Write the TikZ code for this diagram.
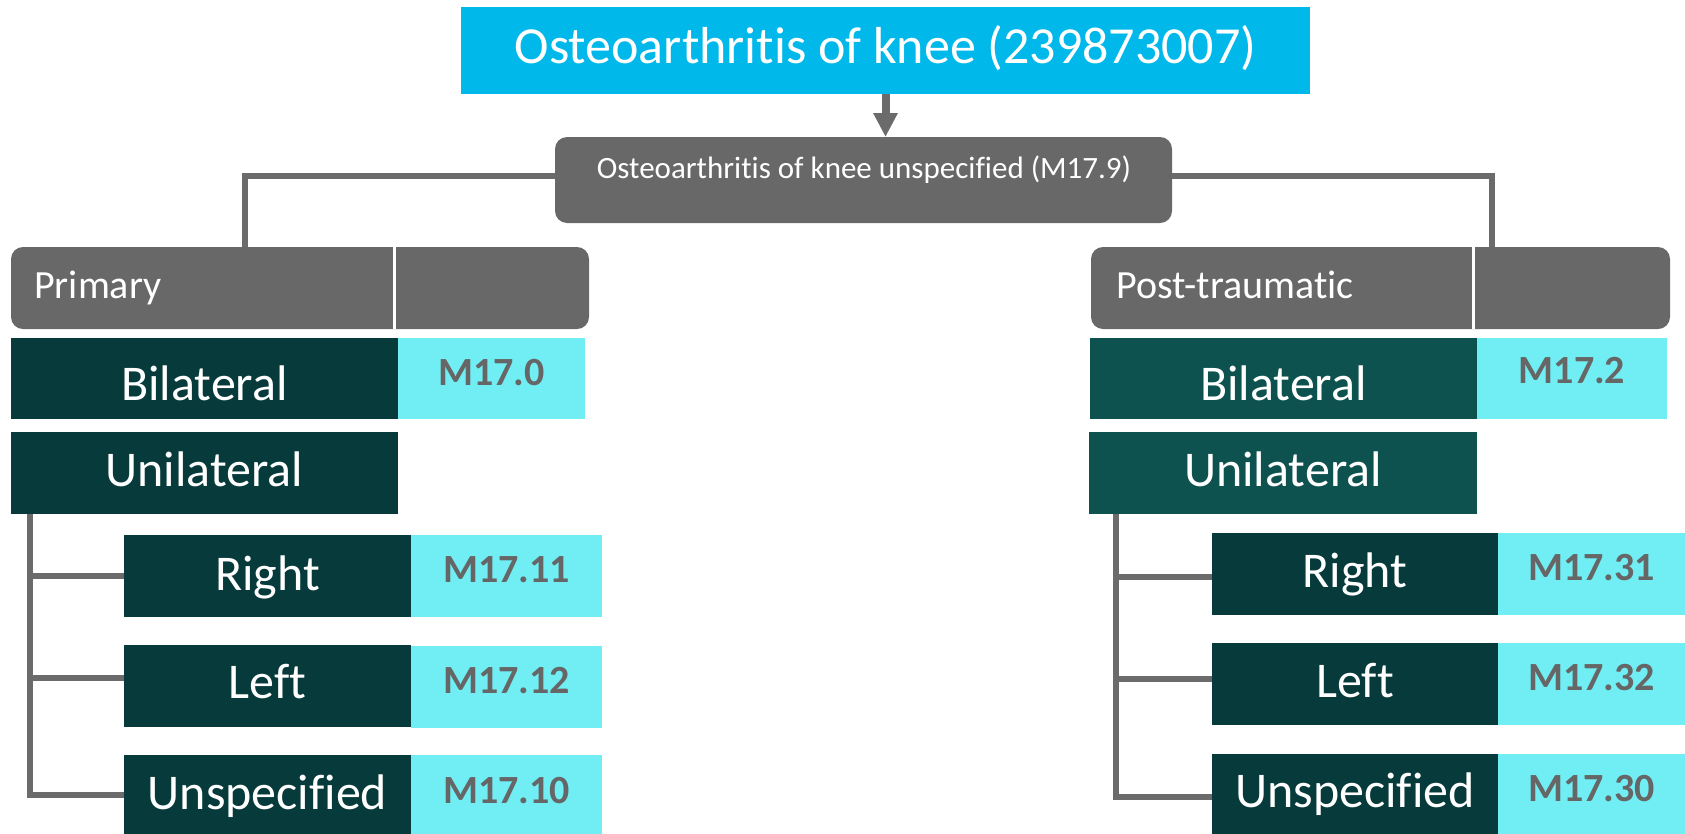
\documentclass[tikz,border=0pt]{standalone}
\usepackage{fontspec}
\setmainfont{Carlito}[Ligatures=NoCommon]
\usetikzlibrary{arrows.meta}
\definecolor{titlecyan}{HTML}{00B8EA}
\definecolor{boxgray}{HTML}{686868}
\definecolor{linegray}{HTML}{6B6B6B}
\definecolor{darkteal}{HTML}{063A3B}
\definecolor{midteal}{HTML}{0E5250}
\definecolor{codecyan}{HTML}{70EEF4}
\definecolor{codetext}{HTML}{666666}
\begin{document}
\begin{tikzpicture}[x=1pt,y=-1pt,
  boxbase/.style={inner sep=0pt, outer sep=0pt, anchor=north west},
  hdrbox/.style={boxbase, fill=boxgray, rounded corners=12pt},
  darkbox/.style={boxbase, fill=darkteal},
  midbox/.style={boxbase, fill=midteal},
  codebox/.style={boxbase, fill=codecyan},
  wtext/.style={anchor=base, inner sep=0pt, text=white, font=\fontsize{50}{56}\selectfont},
  ctext/.style={anchor=base, inner sep=0pt, text=codetext, font=\bfseries\fontsize{40}{46}\selectfont},
  htext/.style={anchor=base west, inner sep=0pt, text=white, font=\fontsize{40}{46}\selectfont},
  conn/.style={draw=linegray, line width=6pt},
  arrowline/.style={draw=linegray, line width=8pt, -{Triangle[width=23pt,length=24pt]}}
]
\useasboundingbox (0,0) rectangle (1685,833);

% title
\node[boxbase, fill=titlecyan, minimum width=849pt, minimum height=87pt] (title) at (461,7) {};
\node[anchor=base, inner sep=0pt, text=white, font=\fontsize{52}{58}\selectfont] (titleT) at (885.5,63) {Osteoarthritis of knee (239873007)};

% middle
\node[hdrbox, minimum width=617pt, minimum height=86pt] (mid) at (555,137) {};
\node[anchor=base, inner sep=0pt, text=white, font=\fontsize{31}{36}\selectfont] (midT) at (864,178) {Osteoarthritis of knee unspecified (M17.9)};

\draw[arrowline] (title.south) -- (title.south |- mid.north);

% headers
\node[hdrbox, minimum width=578pt, minimum height=82pt] (hdrL) at (11,247) {};
\draw[white, line width=3pt] ([xshift=383pt]hdrL.north west) -- ([xshift=383pt]hdrL.south west);
\node[htext] (hdrLT) at (34,298) {Primary};

\node[hdrbox, minimum width=579pt, minimum height=82pt] (hdrR) at (1091,247) {};
\draw[white, line width=3pt] ([xshift=382pt]hdrR.north west) -- ([xshift=382pt]hdrR.south west);
\node[htext] (hdrRT) at (1116,298) {Post-traumatic};

\coordinate (cL) at (245,247);
\coordinate (cR) at (1492,247);
\draw[conn] ([yshift=4pt]mid.west) -| (cL);
\draw[conn] ([yshift=4pt]mid.east) -| (cR);

% left column
\node[darkbox, minimum width=387pt, minimum height=81pt] (bilL) at (11,338) {};
\node[codebox, minimum width=187pt, minimum height=81pt] (bilLc) at (398,338) {};
\node[wtext] (bilLT) at (204.5,400) {Bilateral};
\node[ctext] (bilLcT) at (491.5,385) {M17.0};

\node[darkbox, minimum width=387pt, minimum height=82pt] (uniL) at (11,432) {};
\node[wtext] (uniLT) at (204.5,486) {Unilateral};

\node[darkbox, minimum width=287pt, minimum height=82pt] (rL1) at (124,535) {};
\node[codebox, minimum width=191pt, minimum height=82pt] (cL1) at (411,535) {};
\node[wtext] (rL1T) at (267.5,590) {Right};
\node[ctext] (cL1T) at (506.5,582) {M17.11};

\node[darkbox, minimum width=287pt, minimum height=82pt] (rL2) at (124,645) {};
\node[codebox, minimum width=191pt, minimum height=82pt] (cL2) at (411,646) {};
\node[wtext] (rL2T) at (267.5,698) {Left};
\node[ctext] (cL2T) at (506.5,693) {M17.12};

\node[darkbox, minimum width=287pt, minimum height=82pt] (rL3) at (124,755) {};
\node[codebox, minimum width=191pt, minimum height=82pt] (cL3) at (411,755) {};
\node[wtext] (rL3T) at (267.5,809) {Unspecified};
\node[ctext] (cL3T) at (506.5,803) {M17.10};

\draw[conn] ([xshift=19pt]uniL.south west) |- ([yshift=0pt]rL1.west);
\draw[conn] ([xshift=19pt]uniL.south west) |- ([yshift=8pt]rL2.west);
\draw[conn] ([xshift=19pt]uniL.south west) |- ([yshift=1pt]rL3.west);

% right column
\node[midbox, minimum width=387pt, minimum height=81pt] (bilR) at (1090,338) {};
\node[codebox, minimum width=190pt, minimum height=81pt] (bilRc) at (1477,338) {};
\node[wtext] (bilRT) at (1283.5,400) {Bilateral};
\node[ctext] (bilRcT) at (1572,383) {M17.2};

\node[midbox, minimum width=388pt, minimum height=82pt] (uniR) at (1089,432) {};
\node[wtext] (uniRT) at (1283,486) {Unilateral};

\node[darkbox, minimum width=286pt, minimum height=82pt] (rR1) at (1212,533) {};
\node[codebox, minimum width=187pt, minimum height=82pt] (cR1) at (1498,533) {};
\node[wtext] (rR1T) at (1355,587) {Right};
\node[ctext] (cR1T) at (1591.5,580) {M17.31};

\node[darkbox, minimum width=286pt, minimum height=82pt] (rR2) at (1212,643) {};
\node[codebox, minimum width=187pt, minimum height=82pt] (cR2) at (1498,643) {};
\node[wtext] (rR2T) at (1355,697) {Left};
\node[ctext] (cR2T) at (1591.5,690) {M17.32};

\node[darkbox, minimum width=286pt, minimum height=82pt] (rR3) at (1212,754) {};
\node[codebox, minimum width=187pt, minimum height=82pt] (cR3) at (1498,754) {};
\node[wtext] (rR3T) at (1355,807) {Unspecified};
\node[ctext] (cR3T) at (1591.5,801) {M17.30};

\draw[conn] ([xshift=27pt]uniR.south west) |- ([yshift=-3pt]rR1.west);
\draw[conn] ([xshift=27pt]uniR.south west) |- ([yshift=5pt]rR2.west);
\draw[conn] ([xshift=27pt]uniR.south west) |- ([yshift=-2pt]rR3.west);
\end{tikzpicture}
\end{document}
